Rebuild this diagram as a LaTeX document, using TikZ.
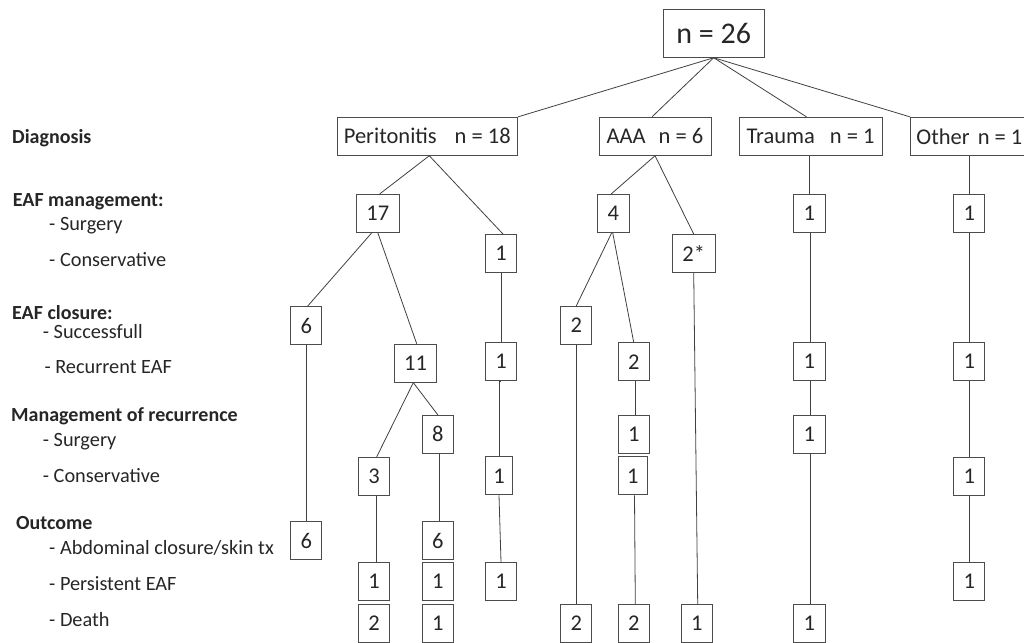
\documentclass[tikz,border=0pt]{standalone}
\usepackage{fontspec}
\setmainfont{Carlito}
\begin{document}
\begin{tikzpicture}[x=1pt,y=-1pt,
  bx/.style={draw=black!70, line width=0.9pt, inner sep=0pt, minimum width=31.4pt, minimum height=38pt, font=\fontsize{22.5}{26}\selectfont, text=black!85},
  wbx/.style={bx, minimum width=42.6pt},
  ln/.style={draw=black!75, line width=0.8pt},
  lab/.style={inner sep=0pt, anchor=base west, font=\fontsize{20.3}{24}\selectfont, text=black!85},
  labb/.style={inner sep=0pt, anchor=base west, font=\fontsize{20}{24}\selectfont\bfseries, text=black!85}]
\useasboundingbox (0,0) rectangle (1024,642);
\clip (0,0) rectangle (1024,642);
% left labels
\node[labb] (lDiag) at (12,143) {Diagnosis};
\node[labb] (lEm) at (12.7,206) {EAF management:};
\node[lab] (lEm1) at (49,230) {- Surgery};
\node[lab] (lEm2) at (49,266) {- Conservative};
\node[labb] (lEc) at (12,319) {EAF closure:};
\node[lab] (lEc1) at (42.7,338) {- Successfull};
\node[lab] (lEc2) at (44.3,373) {- Recurrent EAF};
\node[labb] (lMr) at (11,421) {Management of recurrence};
\node[lab] (lMr1) at (42.7,446) {- Surgery};
\node[lab] (lMr2) at (42.7,482) {- Conservative};
\node[labb] (lOc) at (16,529) {Outcome};
\node[lab] (lOc1) at (49,554) {- Abdominal closure/skin tx};
\node[lab] (lOc2) at (49,590) {- Persistent EAF};
\node[lab] (lOc3) at (49,626) {- Death};
% top
\node[bx, minimum width=100.7pt, minimum height=48pt, font=\fontsize{30}{34}\selectfont] (n26) at (713.7,33.3) {n = 26};
\node[bx, minimum width=180.5pt] (per) at (427.3,136.3) {Peritonitis\hspace{18pt}n = 18};
\node[bx, minimum width=112pt] (aaa) at (655,136.3) {AAA\hspace{13pt}n = 6};
\node[bx, minimum width=143pt] (tra) at (810.5,136.3) {Trauma\hspace{15pt}n = 1};
\node[bx, anchor=west, inner xsep=6pt] (oth) at (910,136.3) {Other\hspace{8pt}n = 1\hspace{40pt}};
% EAF management
\node[wbx] (s17) at (377.8,213.3) {17};
\node[bx] (c1a) at (501,253.5) {1};
\node[bx] (a4) at (613.3,213.3) {4};
\node[wbx] (a2s) at (693.7,253.5) {2*};
\node[bx] (t1) at (809.3,213.3) {1};
\node[bx] (o1) at (969.2,213.3) {1};
% EAF closure
\node[bx] (p6) at (306.2,325.5) {6};
\node[wbx] (p11) at (415.5,363.2) {11};
\node[bx] (c1b) at (501,361.7) {1};
\node[bx] (a2a) at (576.2,325.5) {2};
\node[bx] (a2b) at (633.7,361.7) {2};
\node[bx] (t1b) at (809.3,361.7) {1};
\node[bx] (o1b) at (969.2,361.7) {1};
% management of recurrence
\node[bx] (p8) at (437.8,434.3) {8};
\node[bx] (a1s) at (633.7,434.3) {1};
\node[bx] (t1s) at (809.3,434.3) {1};
\node[bx] (p3) at (374,476.3) {3};
\node[bx, minimum width=27.4pt] (c1c) at (499,475.8) {1};
\node[bx, minimum width=29.7pt] (a1c) at (632.9,475.8) {1};
\node[bx] (o1c) at (969.2,476.3) {1};
% outcome
\node[bx] (p6b) at (306.2,540.5) {6};
\node[bx] (p6c) at (437.8,540.5) {6};
\node[bx] (p1p) at (374,581.7) {1};
\node[bx] (p1q) at (437.8,581.7) {1};
\node[bx] (c1d) at (501,581.7) {1};
\node[bx] (o1d) at (969.2,581.7) {1};
\node[bx] (p2d) at (374,623.3) {2};
\node[bx] (p1d) at (437.8,623.3) {1};
\node[bx] (a2d1) at (576.2,623.3) {2};
\node[bx] (a2d2) at (633.7,623.3) {2};
\node[bx] (a1d) at (696.7,623.3) {1};
\node[bx] (t1d) at (809.3,623.3) {1};
% connectors
\draw[ln] (n26.south) -- (per.north east);
\draw[ln] (n26.south) -- ([xshift=-3pt]aaa.north);
\draw[ln] (n26.south) -- ([xshift=-4pt]tra.north);
\draw[ln] (n26.south) -- (oth.north west);
\draw[ln] ([xshift=2pt]per.south) -- ([xshift=2pt]s17.north);
\draw[ln] ([xshift=2pt]per.south) -- ([xshift=2pt]c1a.north);
\draw[ln] (aaa.south) -- ([xshift=-2pt]a4.north);
\draw[ln] (aaa.south) -- (a2s.north);
\draw[ln] (t1.north |- tra.south) -- (t1.north);
\draw[ln] (o1.north |- oth.south) -- (o1.north);
\draw[ln] ([xshift=-6pt]s17.south) -- ([xshift=1.5pt]p6.north);
\draw[ln] (s17.south) -- ([xshift=1.2pt]p11.north);
\draw[ln] ([xshift=-1.6pt]a4.south) -- (a2a.north);
\draw[ln] ([xshift=-0.6pt]a4.south) -- (a2b.north);
\draw[ln] ([xshift=-2.2pt]p11.south) -- ([xshift=2.7pt]p3.north);
\draw[ln] ([xshift=-2.2pt]p11.south) -- (p8.north);
\draw[ln] (p6.south) -- (p6b.north);
\draw[ln] ([xshift=2pt]p3.south) -- ([xshift=2pt]p1p.north);
\draw[ln] ([xshift=1.5pt]p8.south) -- ([xshift=1.5pt]p6c.north);
\draw[ln] (c1a.south) -- (c1b.north);
\draw[ln] (c1b.south) -- (c1c.south |- c1b.south) -- (c1c.north);
\draw[ln] (c1c.south) -- (c1d.north);
\draw[ln] (a2a.south) -- (a2d1.north);
\draw[ln] ([xshift=1.6pt]a2b.south) -- ([xshift=1.6pt]a1s.north);
\draw[ln] ([xshift=1.6pt]a1c.south) -- ([xshift=1.6pt]a2d2.north);
\draw[ln] (a2s.south) -- ([xshift=1pt]a1d.north);
\draw[ln] ([xshift=0.7pt]t1.south) -- ([xshift=0.7pt]t1b.north);
\draw[ln] ([xshift=0.7pt]t1b.south) -- ([xshift=0.7pt]t1s.north);
\draw[ln] ([xshift=0.7pt]t1s.south) -- ([xshift=0.7pt]t1d.north);
\draw[ln] (o1.south) -- (o1b.north);
\draw[ln] (o1b.south) -- (o1c.north);
\draw[ln] (o1c.south) -- (o1d.north);
\end{tikzpicture}
\end{document}
